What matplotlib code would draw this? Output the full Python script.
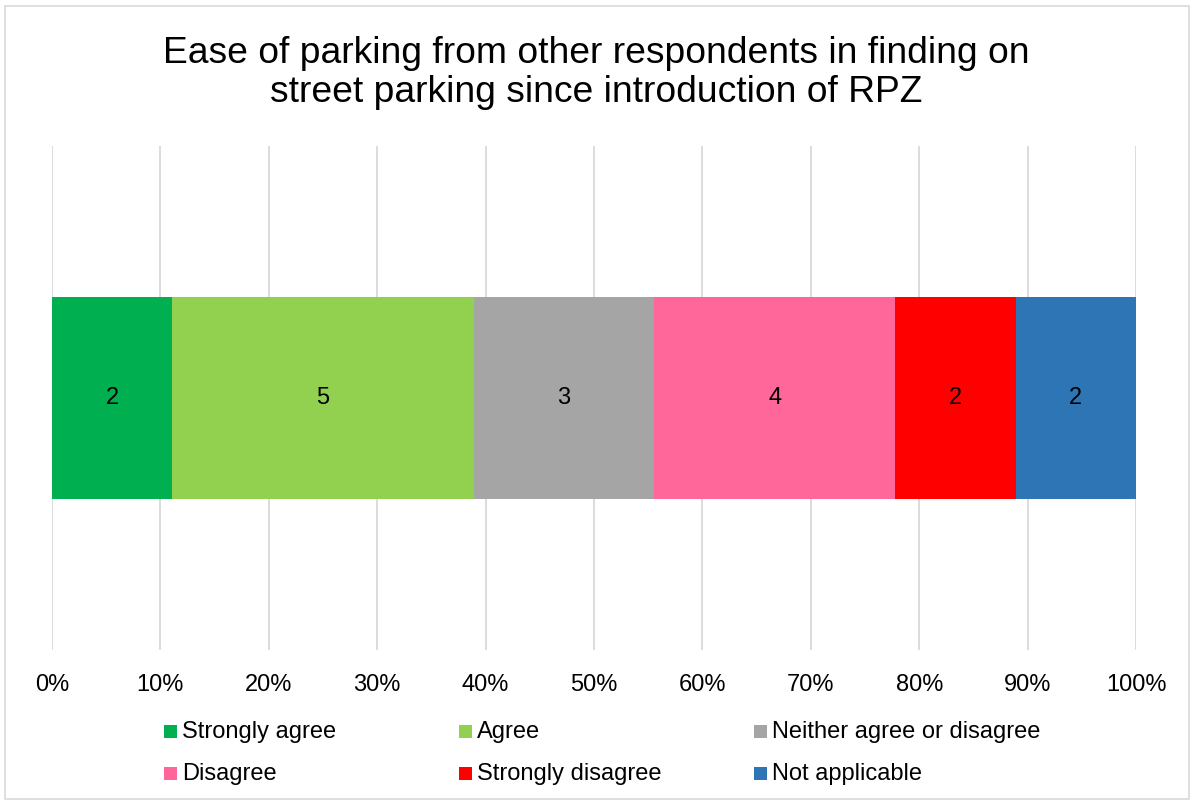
import matplotlib
matplotlib.use("Agg")
import matplotlib.pyplot as plt
from matplotlib.patches import Rectangle

plt.rcParams['font.family'] = ['Liberation Sans', 'DejaVu Sans']

categories = ["Strongly agree", "Agree", "Neither agree or disagree",
              "Disagree", "Strongly disagree", "Not applicable"]
counts = [2, 5, 3, 4, 2, 2]
colors = ["#00B050", "#92D050", "#A5A5A5", "#FF6699", "#FF0000", "#2E75B6"]
title = "Ease of parking from other respondents in finding on\nstreet parking since introduction of RPZ"
tick_vals = [0, 10, 20, 30, 40, 50, 60, 70, 80, 90, 100]

fig = plt.figure(figsize=(11.92, 8.01), dpi=100)
fig.patch.set_facecolor("white")
# outer border
fig.add_artist(Rectangle((5/1192, 2/801), 1184/1192, 793/801, transform=fig.transFigure,
                         fill=False, edgecolor="#D9D9D9", linewidth=1.2))

ax = fig.add_axes([52/1192, 1-650/801, (1136-52)/1192, (650-146)/801])
total = sum(counts)
left = 0.0
for c, v, col in zip(categories, counts, colors):
    w = v / total * 100
    ax.barh(0, w, left=left, height=1.0, color=col, label=c, zorder=3)
    ax.text(left + w/2, 0, str(v), ha="center", va="center", fontsize=17, color="black", zorder=4)
    left += w

ax.set_xlim(0, 100)
ax.set_ylim(-1.25, 1.25)
ax.set_xticks(tick_vals)
ax.set_xticklabels([f"{t}%" for t in tick_vals], fontsize=17)
ax.set_yticks([])
ax.grid(axis="x", color="#D9D9D9", linewidth=1.3, zorder=0)
for s in ax.spines.values():
    s.set_visible(False)
ax.tick_params(axis="x", length=0, pad=17)

fig.text(0.5, 1-73/801, title, ha="center", va="center", fontsize=26.8, linespacing=1.18)

# legend
W, H = 1192, 801
col_x = [164, 459, 754]
row_y = [732, 774]
for i, (c, col) in enumerate(zip(categories, colors)):
    x = col_x[i % 3]
    y = row_y[i // 3]
    fig.add_artist(Rectangle((x/W, 1-(y+6)/H), 13/W, 13/H, transform=fig.transFigure,
                             facecolor=col, edgecolor="none"))
    fig.text((x+18)/W, 1-y/H, c, ha="left", va="center", fontsize=17)

fig.savefig("out.png", dpi=100, facecolor="white")
